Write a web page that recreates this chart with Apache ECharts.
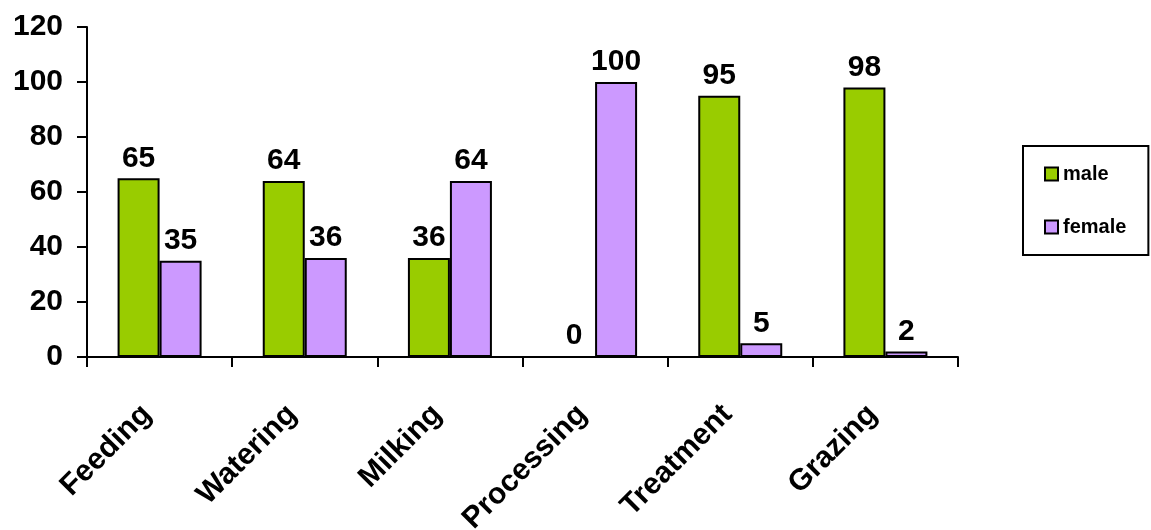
<!DOCTYPE html>
<html>
<head>
<meta charset="utf-8">
<script src="https://cdn.jsdelivr.net/npm/echarts@6/dist/echarts.min.js"></script>
<style>html,body{margin:0;padding:0;background:#fff;}#c{width:1151px;height:530px;}</style>
</head>
<body>
<div id="c"></div>
<script>
var categories = ['Feeding', 'Watering', 'Milking', 'Processing', 'Treatment', 'Grazing'];
var male = [65, 64, 36, 0, 95, 98];
var female = [35, 36, 64, 100, 5, 2];
var seriesNames = ['male', 'female'];

var FONT = 'Arial, "Liberation Sans", sans-serif';
var chart = echarts.init(document.getElementById('c'));
var labelStyle = {
  show: true, position: 'top', distance: 5,
  color: '#000', fontFamily: FONT, fontWeight: 'bold', fontSize: 30
};
chart.setOption({
  animation: false,
  backgroundColor: '#fff',
  grid: { left: 87, right: 193, top: 27, bottom: 173, containLabel: false, outerBoundsMode: 'none' },
  legend: {
    orient: 'vertical', left: 1023, top: 146,
    padding: [18, 22, 18, 21], itemGap: 33,
    itemWidth: 13, itemHeight: 13, icon: 'rect',
    borderColor: '#000', borderWidth: 2,
    textStyle: { fontFamily: FONT, fontWeight: 'bold', fontSize: 20, color: '#000' },
    data: seriesNames
  },
  xAxis: {
    type: 'category', data: categories,
    axisLine: { lineStyle: { color: '#000', width: 2 } },
    axisTick: { show: true, length: 10, lineStyle: { color: '#000', width: 2 } },
    axisLabel: {
      rotate: 45, margin: 40, interval: 0, padding: [0, 18, 0, 0],
      color: '#000', fontFamily: FONT, fontWeight: 'bold', fontSize: 30
    }
  },
  yAxis: {
    type: 'value', min: 0, max: 120, interval: 20,
    axisLine: { show: true, lineStyle: { color: '#000', width: 2 } },
    axisTick: { show: true, length: 10, lineStyle: { color: '#000', width: 2 } },
    splitLine: { show: false },
    axisLabel: { margin: 24, color: '#000', fontFamily: FONT, fontWeight: 'bold', fontSize: 30 }
  },
  series: [
    {
      name: seriesNames[0], type: 'bar', data: male, barWidth: 42, barGap: '0%',
      itemStyle: { color: '#99CC00', borderColor: '#000', borderWidth: 2 },
      label: labelStyle
    },
    {
      name: seriesNames[1], type: 'bar', data: female, barWidth: 42, barGap: '0%',
      itemStyle: { color: '#CC99FF', borderColor: '#000', borderWidth: 2 },
      label: labelStyle
    }
  ]
});
</script>
</body>
</html>
